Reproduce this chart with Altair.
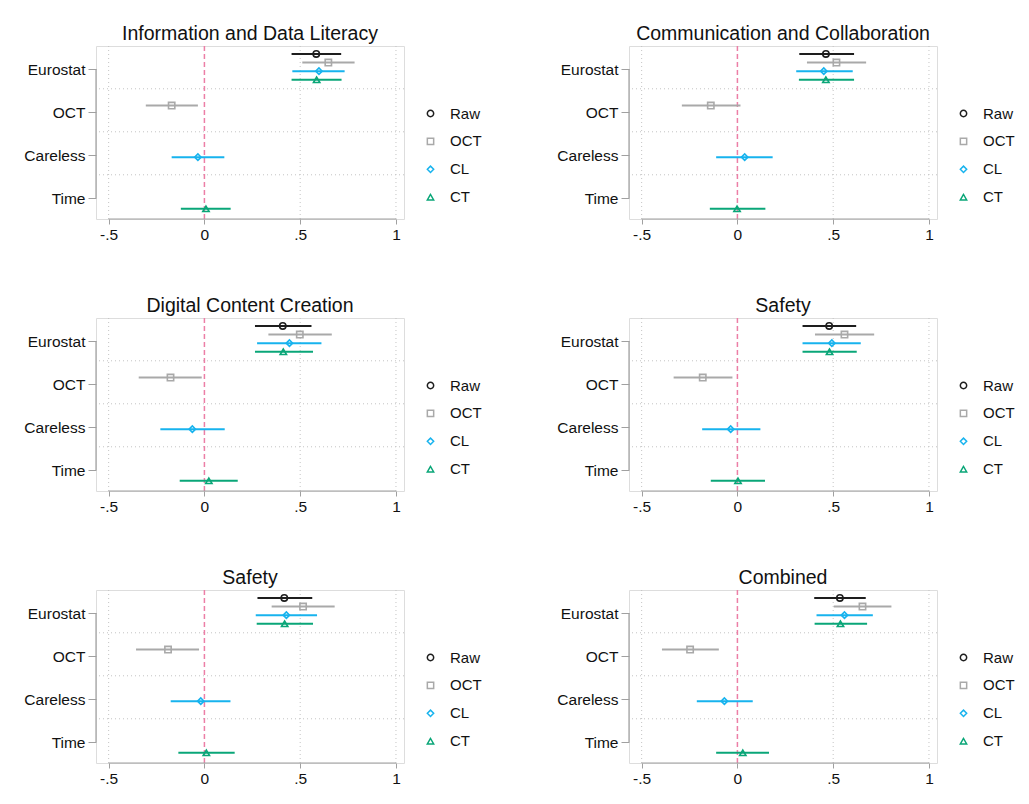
import altair as alt
import pandas as pd

# ---------------- data ----------------
panel_titles = ["Information and Data Literacy", "Communication and Collaboration",
                "Digital Content Creation", "Safety", "Safety", "Combined"]
categories = ["Eurostat", "OCT", "Careless", "Time"]
series = ["Raw", "OCT", "CL", "CT"]

# Eurostat row, one value per panel
raw_est = [0.584, 0.462, 0.409, 0.479, 0.417, 0.535]
raw_lo = [0.455, 0.323, 0.264, 0.340, 0.277, 0.401]
raw_hi = [0.714, 0.609, 0.559, 0.620, 0.563, 0.670]

oct_eu_est = [0.647, 0.517, 0.498, 0.559, 0.515, 0.653]
oct_eu_lo = [0.511, 0.363, 0.334, 0.405, 0.351, 0.503]
oct_eu_hi = [0.784, 0.672, 0.665, 0.714, 0.680, 0.804]

cl_eu_est = [0.598, 0.451, 0.444, 0.493, 0.428, 0.559]
cl_eu_lo = [0.459, 0.307, 0.275, 0.340, 0.268, 0.413]
cl_eu_hi = [0.732, 0.602, 0.611, 0.644, 0.588, 0.707]

ct_eu_est = [0.586, 0.462, 0.412, 0.481, 0.419, 0.538]
ct_eu_lo = [0.455, 0.321, 0.264, 0.340, 0.273, 0.403]
ct_eu_hi = [0.716, 0.609, 0.567, 0.623, 0.567, 0.677]

# OCT row (OCT series only)
oct_est = [-0.171, -0.139, -0.177, -0.181, -0.190, -0.247]
oct_lo = [-0.306, -0.290, -0.343, -0.333, -0.357, -0.394]
oct_hi = [-0.034, 0.016, -0.014, -0.026, -0.028, -0.097]

# Careless row (CL series only)
cl_est = [-0.034, 0.038, -0.063, -0.035, -0.019, -0.068]
cl_lo = [-0.171, -0.111, -0.230, -0.184, -0.176, -0.212]
cl_hi = [0.104, 0.184, 0.106, 0.120, 0.136, 0.080]

# Time row (CT series only)
ct_est = [0.008, -0.002, 0.023, 0.003, 0.010, 0.028]
ct_lo = [-0.123, -0.144, -0.129, -0.139, -0.136, -0.111]
ct_hi = [0.137, 0.146, 0.174, 0.144, 0.158, 0.165]

x_tick_values = [-0.5, 0, 0.5, 1]
x_tick_labels = ["-.5", "0", ".5", "1"]
x_grid_values = [-0.5, 0.5, 1]

# ---------------- style ----------------
colors = ["#1e1e1e", "#a9a9a9", "#17b3ee", "#0aa678"]
shapes = ["circle", "square", "diamond", "triangle-up"]
dodge = {"Raw": -0.35, "OCT": -0.15, "CL": 0.05, "CT": 0.25}
FONT = "Liberation Sans"
W, H = 308, 173
AXIS_GRAY = "#a0a0a0"

rows = []
for p in range(6):
    entries = [
        ("Eurostat", "Raw", raw_est[p], raw_lo[p], raw_hi[p]),
        ("Eurostat", "OCT", oct_eu_est[p], oct_eu_lo[p], oct_eu_hi[p]),
        ("Eurostat", "CL", cl_eu_est[p], cl_eu_lo[p], cl_eu_hi[p]),
        ("Eurostat", "CT", ct_eu_est[p], ct_eu_lo[p], ct_eu_hi[p]),
        ("OCT", "OCT", oct_est[p], oct_lo[p], oct_hi[p]),
        ("Careless", "CL", cl_est[p], cl_lo[p], cl_hi[p]),
        ("Time", "CT", ct_est[p], ct_lo[p], ct_hi[p]),
    ]
    for cat, s, e, lo, hi in entries:
        rows.append({"panel": p, "category": cat, "series": s, "est": e, "lo": lo, "hi": hi,
                     "pos": categories.index(cat) + 1 + dodge[s]})
df = pd.DataFrame(rows)

xs = alt.Scale(domain=[-0.566, 1.042], nice=False, zero=False)
ys = alt.Scale(domain=[0.465, 4.488], reverse=True, nice=False, zero=False)

label_map = "{" + ", ".join(f"'{v}': '{l}'" for v, l in zip(x_tick_values, x_tick_labels)) + "}"
x_axis = alt.Axis(values=x_tick_values, labelExpr=f"{label_map}[toString(datum.value)]",
                  domain=False, grid=False, ticks=True, tickColor=AXIS_GRAY, tickSize=5,
                  labelFontSize=15.5, labelFont=FONT, labelColor="#111111", labelPadding=3,
                  title=None)
cat_arr = "[" + ", ".join(f"'{c}'" for c in categories) + "]"
y_axis = alt.Axis(values=[1, 2, 3, 4], labelExpr=f"{cat_arr}[datum.value - 1]",
                  domain=False, grid=False, ticks=True, tickColor=AXIS_GRAY, tickSize=8,
                  labelFontSize=15.5, labelFont=FONT, labelColor="#111111", labelPadding=3,
                  title=None)

color_scale = alt.Scale(domain=series, range=colors)
shape_scale = alt.Scale(domain=series, range=shapes)
legend = alt.Legend(title=None, orient="none", legendX=327, legendY=60,
                    labelFontSize=15, labelFont=FONT, labelColor="#111111",
                    symbolSize=40, symbolStrokeWidth=1.5, rowPadding=11.9, labelOffset=12)


def X(field):
    return alt.X(field, scale=xs, axis=x_axis)


def Y(field):
    return alt.Y(field, scale=ys, axis=y_axis)


def panel(p):
    d = df[df.panel == p]
    vgrid = alt.Chart(pd.DataFrame({"v": x_grid_values})).mark_rule(
        color="#c4c4c4", strokeDash=[1, 3], strokeWidth=1
    ).encode(x=X("v:Q"))
    hgrid = alt.Chart(pd.DataFrame({"h": [c + 0.46 for c in range(1, len(categories))]})).mark_rule(
        color="#c4c4c4", strokeDash=[1, 3], strokeWidth=1
    ).encode(y=Y("h:Q"))
    zero = alt.Chart(pd.DataFrame({"z": [0]})).mark_rule(
        color="#ec7fa6", strokeDash=[5, 3], strokeWidth=1.5
    ).encode(x=X("z:Q"))
    xline = alt.Chart(pd.DataFrame({"a": [min(x_tick_values)], "b": [max(x_tick_values)]})).mark_rule(
        color=AXIS_GRAY, strokeWidth=1.2
    ).encode(x=X("a:Q"), x2="b:Q", y=alt.value(H))
    bracket = alt.Chart(pd.DataFrame({"a": [1], "b": [len(categories)]})).mark_rule(
        color=AXIS_GRAY, strokeWidth=1.2
    ).encode(y=Y("a:Q"), y2="b:Q", x=alt.value(0))
    bars = [
        alt.Chart(d).transform_filter(alt.datum.series == s).mark_rule(
            strokeWidth=2, color=c
        ).encode(x=X("lo:Q"), x2="hi:Q", y=Y("pos:Q"))
        for s, c in zip(series, colors)
    ]
    pts = alt.Chart(d).mark_point(filled=False, size=40, strokeWidth=1.6, opacity=1).encode(
        x=X("est:Q"),
        y=Y("pos:Q"),
        color=alt.Color("series:N", scale=color_scale, legend=legend),
        shape=alt.Shape("series:N", scale=shape_scale, legend=legend),
    )
    return alt.layer(vgrid, hgrid, zero, xline, bracket, *bars, pts).properties(
        width=W, height=H,
        title=alt.Title(panel_titles[p], fontSize=19.5, font=FONT, fontWeight="normal",
                        color="#111111", anchor="middle", offset=1),
    )


def indep(c):
    return c.resolve_scale(color="independent", shape="independent",
                           x="independent", y="independent")


row_charts = [indep(alt.hconcat(panel(2 * r), panel(2 * r + 1), spacing=73)) for r in range(3)]
chart = indep(alt.vconcat(*row_charts, spacing=52)).properties(
    padding={"left": 15, "top": 15, "right": 5, "bottom": 5}
).configure_view(strokeWidth=0).configure(background="white")

chart.save("out.html", embed_options={"renderer": "svg", "actions": False})
